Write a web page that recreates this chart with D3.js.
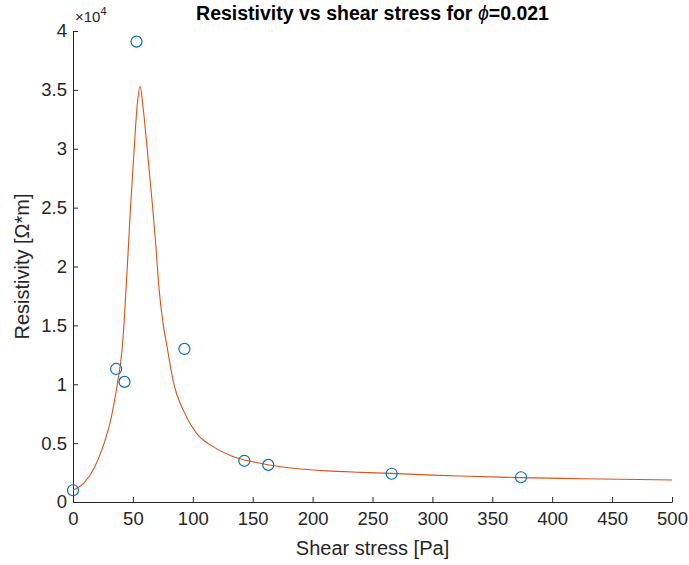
<!DOCTYPE html>
<html>
<head>
<meta charset="utf-8">
<script src="https://cdn.jsdelivr.net/npm/d3@7"></script>
<style>
  body { margin: 0; background: #fff; }
  svg { display: block; font-family: "Liberation Sans", Arial, sans-serif; }
</style>
</head>
<body>
<div id="chart"></div>
<script>
// measured points
const stressPts = [0, 36, 43, 53, 93, 143, 163, 266, 374]
const resistPts = [1000, 11300, 10200, 39100, 13000, 3500, 3150, 2400, 2100]

// fitted curve
const fitX = [0, 9, 18, 24, 32, 37, 41, 43, 44.5, 46, 48, 51, 53.5, 56, 58.5, 62, 66.5, 69.5, 71.5, 74.5, 79, 84, 92, 103, 117, 134, 150, 164, 184, 212, 240, 266, 295, 323, 373, 426, 500]
const fitY = [1000, 1600, 2950, 4400, 7200, 10000, 13000, 15800, 18500, 21200, 25000, 29900, 33600, 35300, 33500, 29900, 25000, 21300, 18500, 15700, 12900, 10100, 7800, 5850, 4700, 3850, 3420, 3140, 2860, 2640, 2520, 2430, 2300, 2210, 2070, 1980, 1870]

const xTicks = [0, 50, 100, 150, 200, 250, 300, 350, 400, 450, 500]
const yTicks = [0, 5000, 10000, 15000, 20000, 25000, 30000, 35000, 40000]

const w = 689
const h = 565
const margin = {left: 73, right: 17, top: 31, bottom: 63}

const svg = d3.select("#chart")
  .append("svg")
  .attr("width", w)
  .attr("height", h)

const x = d3.scaleLinear().domain([0, 500]).range([margin.left, w - margin.right])
const y = d3.scaleLinear().domain([0, 40000]).range([h - margin.bottom, margin.top])

const axisColor = "#262626"

// x axis
const xAxis = svg.append("g")
  .attr("transform", "translate(0," + (h - margin.bottom) + ")")
  .call(d3.axisBottom(x).tickValues(xTicks).tickSizeInner(-5).tickSizeOuter(0).tickPadding(10))
xAxis.select(".domain").attr("stroke", axisColor)
xAxis.selectAll(".tick line").attr("stroke", axisColor)
xAxis.selectAll("text").attr("fill", axisColor).style("font-size", "18.5px")

// y axis
const yAxis = svg.append("g")
  .attr("transform", "translate(" + margin.left + ",0)")
  .call(d3.axisLeft(y).tickValues(yTicks).tickSizeInner(-5).tickSizeOuter(0).tickPadding(6)
    .tickFormat((d) => d3.format("~g")(d / 10000)))
yAxis.select(".domain").attr("stroke", axisColor)
yAxis.selectAll(".tick line").attr("stroke", axisColor)
yAxis.selectAll("text").attr("fill", axisColor).style("font-size", "18.5px")

// exponent label
const expo = svg.append("text")
  .attr("x", margin.left + 2)
  .attr("y", 22)
  .attr("fill", axisColor)
  .style("font-size", "15px")
expo.append("tspan").text("×10")
expo.append("tspan").attr("dy", -7).style("font-size", "11px").text("4")

// fitted curve
const line = d3.line()
  .x((d, i) => x(fitX[i]))
  .y((d) => y(d))
  .curve(d3.curveMonotoneX)

svg.append("path")
  .datum(fitY)
  .attr("d", line)
  .attr("fill", "none")
  .attr("stroke", "#D95319")
  .attr("stroke-width", 1.1)

// data circles
svg.selectAll("circle.pt")
  .data(stressPts)
  .enter()
  .append("circle")
  .attr("class", "pt")
  .attr("cx", (d) => x(d))
  .attr("cy", (d, i) => y(resistPts[i]))
  .attr("r", 5.5)
  .attr("fill", "none")
  .attr("stroke", "#0072BD")
  .attr("stroke-width", 1.2)

// labels
svg.append("text")
  .attr("x", (margin.left + w - margin.right) / 2)
  .attr("y", 555)
  .attr("text-anchor", "middle")
  .attr("fill", axisColor)
  .style("font-size", "20px")
  .text("Shear stress [Pa]")

svg.append("text")
  .attr("transform", "translate(29," + ((margin.top + h - margin.bottom) / 2) + ") rotate(-90)")
  .attr("text-anchor", "middle")
  .attr("fill", axisColor)
  .style("font-size", "20px")
  .text("Resistivity [Ω*m]")

const title = svg.append("text")
  .attr("x", (margin.left + w - margin.right) / 2)
  .attr("y", 20)
  .attr("text-anchor", "middle")
  .attr("fill", "#000")
  .style("font-size", "19.5px")
  .style("font-weight", "bold")
title.append("tspan").text("Resistivity vs shear stress for ")
title.append("tspan").style("font-style", "italic").style("font-weight", "normal").text("ϕ")
title.append("tspan").text("=0.021")
</script>
</body>
</html>
